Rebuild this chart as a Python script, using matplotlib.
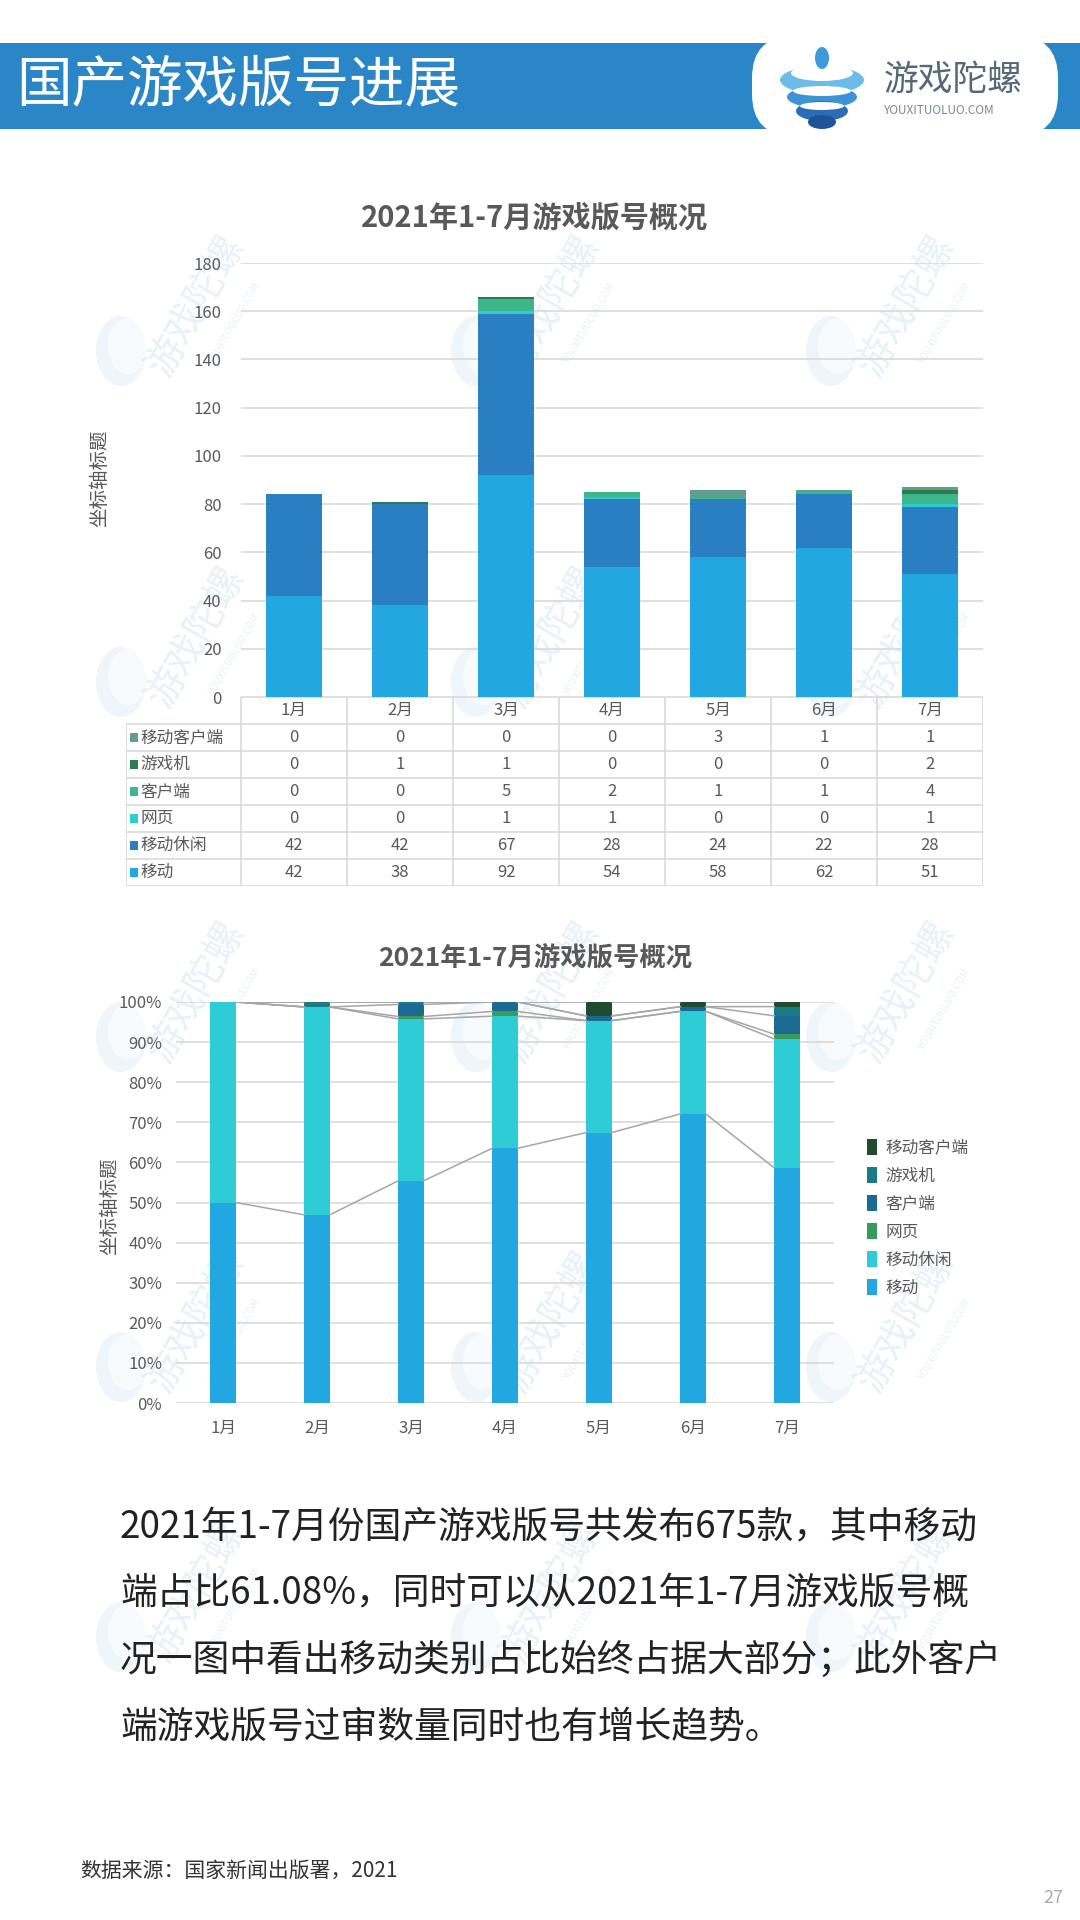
import matplotlib
matplotlib.use("Agg")
import matplotlib.pyplot as plt
from matplotlib.patches import Rectangle, FancyBboxPatch, Ellipse
import numpy as np

plt.rcParams['font.family'] = ['Noto Sans CJK SC', 'DejaVu Sans']

# ── Data ───────────────────────────────────────────────────────
months = ["1月", "2月", "3月", "4月", "5月", "6月", "7月"]
series_names = ["移动", "移动休闲", "网页", "客户端", "游戏机", "移动客户端"]
mobile = [42, 38, 92, 54, 58, 62, 51]
mobile_casual = [42, 42, 67, 28, 24, 22, 28]
web = [0, 0, 1, 1, 0, 0, 1]
client = [0, 0, 5, 2, 1, 1, 4]
console = [0, 1, 1, 0, 0, 0, 2]
mobile_client = [0, 0, 0, 0, 3, 1, 1]
series_values = [mobile, mobile_casual, web, client, console, mobile_client]

colors_top = ["#22A7E0", "#2A7EC2", "#2FCBD3", "#3DB68D", "#2F7C4B", "#5E9E8F"]
colors_bottom = ["#22A7E0", "#2ECCD4", "#3A9A5C", "#1B6A94", "#1A7B84", "#204B2F"]

title_chart = "2021年1-7月游戏版号概况"
axis_title = "坐标轴标题"
body_lines = [
    "2021年1-7月份国产游戏版号共发布675款，其中移动",
    "端占比61.08%，同时可以从2021年1-7月游戏版号概",
    "况一图中看出移动类别占比始终占据大部分；此外客户",
    "端游戏版号过审数量同时也有增长趋势。",
]
source_text = "数据来源：国家新闻出版署，2021"

W, H = 1080, 1920
GRAY = "#595959"
GRID = "#D9D9D9"

fig = plt.figure(figsize=(10.8, 19.2), dpi=100)
fig.patch.set_facecolor("white")

# ── Background / decoration layer (pixel coords) ───────────────
bg = fig.add_axes([0, 0, 1, 1], zorder=0)
bg.set_xlim(0, W)
bg.set_ylim(H, 0)
bg.axis("off")

# watermarks
for wx in [196, 551, 906]:
    for wy in [306, 637, 992, 1322, 1592]:
        bg.add_patch(Ellipse((wx - 75, wy + 45), 50, 70, color="#e3f0f9", alpha=0.6, lw=0))
        bg.add_patch(Ellipse((wx - 68, wy + 40), 40, 56, color="white", alpha=0.6, lw=0))
        bg.text(wx, wy, "游戏陀螺", fontsize=28, rotation=60, color="#cfe4f2",
                alpha=0.5, ha="center", va="center")
        bg.text(wx + 38, wy + 18, "YOUXITUOLUO.COM", fontsize=7, rotation=60,
                color="#cfe4f2", alpha=0.5, ha="center", va="center")

# header band
bg.add_patch(Rectangle((0, 43), W, 86, color="#2B86C8", lw=0))
bg.add_patch(FancyBboxPatch((752, 36), 306, 100,
                            boxstyle="round,pad=0,rounding_size=42",
                            color="white", lw=0))
bg.text(16, 86, "国产游戏版号进展", fontsize=40, color="white", va="center", ha="left")

# logo
bg.add_patch(Ellipse((822, 80), 84, 28, color="#6DBBE9", lw=0))
bg.add_patch(Ellipse((822, 73), 62, 16, color="white", lw=0))
bg.add_patch(Ellipse((822, 97), 70, 22, color="#3E93D4", lw=0))
bg.add_patch(Ellipse((822, 91), 58, 10, color="white", lw=0))
bg.add_patch(Ellipse((822, 111), 52, 20, color="#2A6DB6", lw=0))
bg.add_patch(Ellipse((822, 106), 44, 8, color="white", lw=0))
bg.add_patch(Ellipse((822, 122), 28, 14, color="#1F5398", lw=0))
bg.add_patch(Ellipse((822, 58), 14, 22, color="#3D9BDB", lw=0))
bg.text(884, 80, "游戏陀螺", fontsize=25, color="#56677A", va="center", ha="left")
bg.text(884, 110, "YOUXITUOLUO.COM", fontsize=8.5, color="#7A8896", va="center", ha="left")

# ── Chart 1: stacked counts with data table ────────────────────
x = np.arange(len(months))
ax1 = fig.add_axes([241 / W, 1 - 697 / H, 742 / W, 434 / H], zorder=1)
ax1.set_facecolor("none")
bottom = np.zeros(len(months))
for vals, c in zip(series_values, colors_top):
    ax1.bar(x, vals, 0.52, bottom=bottom, color=c, zorder=3, lw=0)
    bottom += np.array(vals)
ax1.set_xlim(-0.5, 6.5)
ax1.set_ylim(0, 180)
ax1.set_yticks(range(0, 181, 20))
ax1.set_xticks([])
ax1.yaxis.grid(True, color=GRID, lw=1.2)
ax1.set_axisbelow(True)
for s in ax1.spines.values():
    s.set_visible(False)
ax1.tick_params(axis="y", length=0, labelsize=12, labelcolor=GRAY, pad=14)
fig.text(535 / W, 1 - 218 / H, title_chart, fontsize=21, fontweight="bold",
         color=GRAY, ha="center", va="center")
fig.text(100 / W, 1 - 478 / H, axis_title, fontsize=14, color=GRAY,
         rotation=90, ha="center", va="center")

# table
leg_w = (241 - 126) / 106
axt = fig.add_axes([126 / W, 1 - 886 / H, 857 / W, 189 / H], zorder=1)
axt.set_xlim(-0.5 - leg_w, 6.5)
axt.set_ylim(7, 0)
axt.axis("off")
axt.plot([-0.5, 6.5], [0, 0], color=GRID, lw=1.2)
for r in range(1, 8):
    axt.plot([-0.5 - leg_w, 6.5], [r, r], color=GRID, lw=1.2)
for k in range(8):
    axt.plot([-0.5 + k, -0.5 + k], [0, 7], color=GRID, lw=1.2)
axt.plot([-0.5 - leg_w, -0.5 - leg_w], [1, 7], color=GRID, lw=1.2)
for i, m in enumerate(months):
    axt.text(i, 0.5, m, fontsize=12, color=GRAY, ha="center", va="center")
rows = list(zip(series_names, series_values, colors_top))[::-1]
for r, (name, vals, c) in enumerate(rows, start=1):
    axt.add_patch(Rectangle((-0.5 - leg_w + 0.04, r + 0.32), 0.07, 0.36, color=c, lw=0))
    axt.text(-0.5 - leg_w + 0.14, r + 0.5, name, fontsize=12, color=GRAY,
             ha="left", va="center")
    for i, v in enumerate(vals):
        axt.text(i, r + 0.5, str(v), fontsize=12, color=GRAY, ha="center", va="center")

# ── Chart 2: 100% stacked with series lines ────────────────────
ax2 = fig.add_axes([176 / W, 1 - 1403 / H, 658 / W, 401 / H], zorder=1)
ax2.set_facecolor("none")
data = np.array(series_values, dtype=float)
totals = data.sum(axis=0)
pct = data / totals
cum = np.cumsum(pct, axis=0)
bw = 0.27
handles = []
for k in range(len(series_names)):
    b = ax2.bar(x, pct[k], bw, bottom=cum[k] - pct[k], color=colors_bottom[k],
                zorder=3, lw=0, label=series_names[k])
    handles.append(b)
    for i in range(len(months) - 1):
        ax2.plot([x[i] + bw / 2, x[i + 1] - bw / 2], [cum[k][i], cum[k][i + 1]],
                 color="#A6A6A6", lw=1.1, zorder=4)
ax2.set_xlim(-0.5, 6.5)
ax2.set_ylim(0, 1)
ax2.set_yticks(np.arange(0, 1.01, 0.1))
ax2.set_yticklabels([f"{int(round(t * 100))}%" for t in np.arange(0, 1.01, 0.1)])
ax2.set_xticks(x)
ax2.set_xticklabels(months)
ax2.yaxis.grid(True, color=GRID, lw=1.2)
ax2.set_axisbelow(True)
for s in ax2.spines.values():
    s.set_visible(False)
ax2.tick_params(axis="both", length=0, labelsize=12, labelcolor=GRAY)
ax2.tick_params(axis="y", pad=10)
ax2.tick_params(axis="x", pad=12)
fig.text(535 / W, 1 - 958 / H, title_chart, fontsize=19, fontweight="bold",
         color=GRAY, ha="center", va="center")
fig.text(110 / W, 1 - 1206 / H, axis_title, fontsize=14, color=GRAY,
         rotation=90, ha="center", va="center")
leg = ax2.legend(handles[::-1], series_names[::-1], loc="upper left",
                 bbox_to_anchor=(852 / W, 1 - 1124 / H), bbox_transform=fig.transFigure,
                 frameon=False, fontsize=12, handlelength=0.6, handleheight=1.1,
                 handletextpad=0.5, labelspacing=0.62)
for t in leg.get_texts():
    t.set_color(GRAY)

# ── Body text ──────────────────────────────────────────────────
for j, line in enumerate(body_lines):
    bg.text(120, 1528 + j * 66.3, line, fontsize=26.5, color="#222222",
            ha="left", va="center")
bg.text(80, 1871, source_text, fontsize=15, color="#333333", ha="left", va="center")
bg.text(1053, 1898, "27", fontsize=13, color="#AAAAAA", ha="center", va="center")

fig.savefig("out.png", dpi=100, facecolor="white")
